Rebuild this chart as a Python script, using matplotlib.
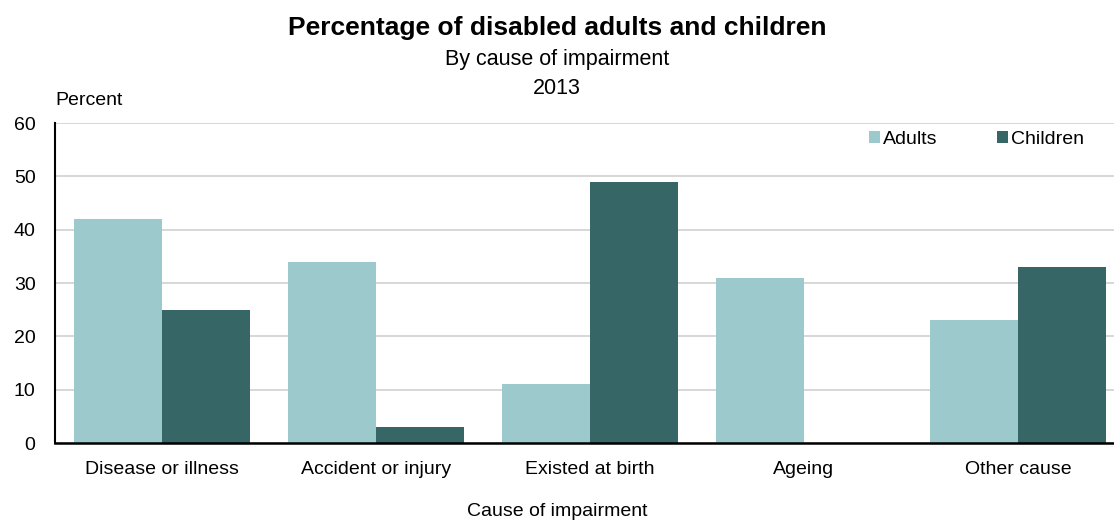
import matplotlib.pyplot as plt
import numpy as np

plt.rcParams["font.family"] = ["Liberation Sans", "DejaVu Sans"]

causes = ["Disease or illness", "Accident or injury", "Existed at birth", "Ageing", "Other cause"]
adults = [42, 34, 11, 31, 23]
children = [25, 3, 49, 0, 33]

ADULT_C = "#9ccacc"
CHILD_C = "#366666"

W, H = 1114, 522
fig = plt.figure(figsize=(W / 100, H / 100), dpi=100)
# plot area runs a little past the right edge of the canvas
ax = fig.add_axes([55 / W, 1 - 443 / H, 1070 / W, 320 / H])

x = np.arange(len(causes))
w = 0.41
ax.bar(x - w / 2, adults, w, color=ADULT_C, label="Adults", zorder=2)
ax.bar(x + w / 2, children, w, color=CHILD_C, label="Children", zorder=2)

ax.set_xlim(-0.5, len(causes) - 0.5)
ax.set_ylim(0, 60)
ax.set_yticks(range(0, 61, 10))
ax.yaxis.grid(True, color="#d4d4d4", lw=1.3, zorder=0)
ax.set_axisbelow(True)
ax.set_xticks(x)
ax.set_xticklabels(causes)
ax.tick_params(axis="both", length=0, labelsize=14)
ax.tick_params(axis="y", pad=14)
ax.tick_params(axis="x", pad=13)
for s in ("top", "right"):
    ax.spines[s].set_visible(False)
ax.spines["left"].set_linewidth(1.5)
ax.spines["bottom"].set_linewidth(1.8)

fig.text(0.5, 1 - 512 / H, "Cause of impairment", ha="center", va="center", fontsize=14)
fig.text(0.5, 1 - 28 / H, "Percentage of disabled adults and children", ha="center",
         va="center", fontsize=19, fontweight="bold")
fig.text(0.5, 1 - 60 / H, "By cause of impairment", ha="center", va="center", fontsize=15.5)
fig.text(0.5, 1 - 88 / H, "2013", ha="center", va="center", fontsize=15.5)
fig.text(55 / W, 1 - 100 / H, "Percent", ha="left", va="center", fontsize=14)

ax.legend(loc="upper right", bbox_to_anchor=(1084 / W, 1 - 131 / H),
          bbox_transform=fig.transFigure, ncol=2, frameon=False,
          fontsize=14, handlelength=0.55, handleheight=0.55, handletextpad=0.15,
          columnspacing=3.1, borderaxespad=0, borderpad=0)

fig.savefig("out.png", dpi=100)
